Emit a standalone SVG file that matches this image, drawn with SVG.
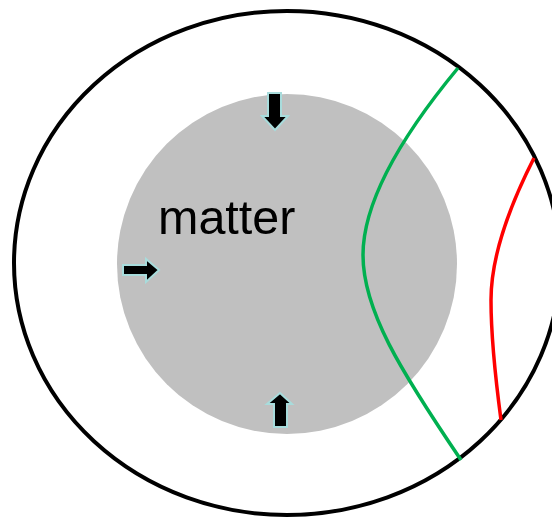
<svg xmlns="http://www.w3.org/2000/svg" width="552" height="518" viewBox="0 0 552 518">
<style>
.arrow{fill:#000;stroke:#a8dcdc;stroke-width:2;stroke-linejoin:miter}
.curve{fill:none;stroke-width:3.5}
</style>
<rect width="552" height="518" fill="#fff"/>
<g id="outer"><ellipse cx="287" cy="263" rx="273" ry="252" fill="#fff" stroke="#000" stroke-width="4"/></g>
<g id="matter">
<circle cx="287" cy="264" r="170" fill="#c0c0c0"/>
<text x="158" y="234" font-family="Liberation Sans, Arial, sans-serif" font-size="48.5" fill="#000">matter</text>
</g>
<g id="arrow-top"><polygon class="arrow" points="268,93 281,93 281,116 288,116 275,130 262,116 268,116"/></g>
<g id="arrow-left"><polygon class="arrow" points="123,265 146,265 146,259 159,270 146,282 146,275 123,275"/></g>
<g id="arrow-bottom"><polygon class="arrow" points="280,393 292,404 287,404 287,427 274,427 274,404 267,404"/></g>
<g id="connectors">
<path class="curve" stroke="#00b050" d="M458,68 C390,150 363,210 363,255 C363,310 400,370 461,460"/>
<path class="curve" stroke="#ff0000" d="M534,158 C505,215 491,260 491,300 C491,340 497,390 501,420"/>
</g>
</svg>
